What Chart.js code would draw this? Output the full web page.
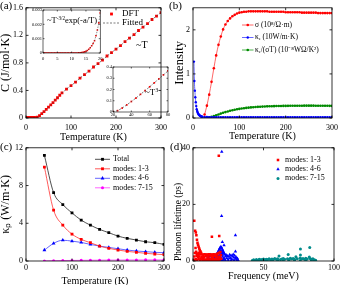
<!DOCTYPE html>
<html lang="en">
<head>
<meta charset="UTF-8">
<title>Heat capacity, transport and phonon lifetime</title>
<script src="https://cdn.jsdelivr.net/npm/chart.js@4.4.1/dist/chart.umd.min.js"></script>
<style>
  body { margin: 0; background: #fff; }
  #wrap { position: relative; width: 343px; height: 285px; overflow: hidden; font-family: 'Liberation Serif', serif; }
  canvas { position: absolute; }
  .lbl { position: absolute; white-space: nowrap; line-height: 1; color: #000; }
  .lbl sup { font-size: 60%; vertical-align: 0.5em; line-height: 0; }
</style>
</head>
<body>
<div id="wrap">
  <canvas id="cA" width="172" height="145" style="left:0;top:0"></canvas>
  <canvas id="cA1" width="76" height="56" style="left:30px;top:6px"></canvas>
  <canvas id="cA2" width="72" height="56" style="left:100px;top:63px"></canvas>
  <canvas id="cB" width="171" height="145" style="left:172px;top:0"></canvas>
  <canvas id="cC" width="172" height="145" style="left:0;top:140px"></canvas>
  <canvas id="cD" width="171" height="145" style="left:172px;top:140px"></canvas>
  <div class="lbl" style="left:0;top:0;font-size:11px">(a)</div>
  <div class="lbl" style="left:169px;top:0;font-size:11px">(b)</div>
  <div class="lbl" style="left:0;top:141px;font-size:11px">(c)</div>
  <div class="lbl" style="left:170px;top:141px;font-size:11px">(d)</div>
  <div class="lbl" style="left:47px;top:16px;font-size:8.5px">~T<sup>-3/2</sup>exp(-a/T)</div>
  <div class="lbl" style="left:136px;top:40px;font-size:10px">~T</div>
  <div class="lbl" style="left:145px;top:88px;font-size:9px">~T<sup>3</sup></div>
</div>
<script>
// (a) heat capacity
const lowT = [0,0.5,1,1.5,2,2.5,3,3.5,4,4.5,5,5.5,6,6.5,7,7.5,8,8.5,9,9.5,
              10,10.5,11,11.5,12,12.5,13,13.5,14,14.5,15,15.5,16,16.5,17,17.5,18,18.5,19,19.5,20];
const lowC = [0,0,0,0,0,0,0,0,0,0,0,0,0,0,0,0,0,0,0,0,
              0,0,0,0,0,0.00001,0.00002,0.00003,0.00005,0.00008,0.00012,0.00018,0.00026,0.00036,0.0005,0.00066,0.00086,0.0012,0.0016,0.0021,0.0028];
const midT = [25,30,35,40,45,50,55,60,65,70,75,80];
const midC = [0.012,0.035,0.063,0.093,0.124,0.157,0.19,0.224,0.259,0.294,0.33,0.365];
const highT = [90,100,110,120,130,140,150,160,170,180,190,200,210,220,230,240,250,260,270,280,290,300];
const highC = [0.42,0.47,0.52,0.58,0.63,0.68,0.74,0.79,0.84,0.9,0.95,1.0,1.05,1.11,1.16,1.21,1.27,1.32,1.37,1.43,1.48,1.53];

// (b) transport
const tB = [25,30,35,40,45,50,55,60,65,70,75,80,85,90,95,100,105,110,115,120,
            125,130,135,140,145,150,155,160,165,170,175,180,185,190,195,200,205,210,215,220,
            225,230,235,240,245,250,255,260,265,270,275,280,285,290,295,300];
const sigma = [0.08,0.28,0.53,0.82,1.13,1.42,1.66,1.85,2.01,2.12,
               2.2,2.26,2.31,2.34,2.37,2.39,2.4,2.41,2.41,2.42,
               2.42,2.42,2.42,2.42,2.42,2.42,2.42,2.42,2.41,2.41,
               2.41,2.41,2.41,2.41,2.41,2.4,2.4,2.4,2.4,2.4,
               2.4,2.4,2.39,2.39,2.39,2.39,2.39,2.39,2.39,2.38,
               2.38,2.38,2.38,2.38,2.38,2.38];
const keLowT = [2,3,4,5,6,7,8,9,10,11,12,13,14,15,16,17,18,19,20];
const keLow = [1.28,0.84,0.62,0.47,0.36,0.27,0.2,0.16,0.13,0.1,0.085,0.07,0.06,0.05,0.045,0.04,0.035,0.03,0.028];
const ke = [0.025,0.022,0.02,0.02,0.02,0.02,0.02,0.02,0.02,0.02,
            0.02,0.02,0.02,0.02,0.02,0.02,0.02,0.02,0.02,0.02,
            0.02,0.02,0.02,0.02,0.02,0.02,0.02,0.02,0.02,0.02,
            0.02,0.02,0.02,0.02,0.02,0.02,0.02,0.02,0.02,0.02,
            0.02,0.02,0.02,0.02,0.02,0.02,0.02,0.02,0.02,0.02,
            0.02,0.02,0.02,0.02,0.02,0.02];
const lorenz = [0,0.005,0.015,0.028,0.043,0.06,0.08,0.1,0.118,0.134,
                0.149,0.163,0.176,0.188,0.198,0.207,0.215,0.222,0.229,0.235,
                0.24,0.245,0.249,0.253,0.256,0.259,0.262,0.264,0.266,0.268,
                0.269,0.271,0.272,0.273,0.274,0.275,0.276,0.277,0.277,0.278,
                0.278,0.279,0.279,0.28,0.28,0.28,0.28,0.28,0.279,0.279,
                0.278,0.278,0.277,0.277,0.276,0.275];

// (c) lattice thermal conductivity
const tC = [40,60,80,100,120,140,160,180,200,220,240,260,280,300];
const kTotal = [11.2,7.25,5.98,5.1,4.33,3.8,3.35,3.0,2.64,2.4,2.22,2.04,1.94,1.76];
const k13 = [9.96,5.39,3.8,2.85,2.29,1.94,1.58,1.34,1.16,1.02,0.92,0.81,0.74,0.67];
const k46 = [1.16,1.87,2.2,2.11,1.97,1.76,1.58,1.44,1.3,1.16,1.06,0.99,0.92,0.88];
const k715 = [0.01,0.03,0.05,0.06,0.07,0.08,0.09,0.1,0.1,0.11,0.11,0.12,0.12,0.12];

// (d) phonon lifetime [frequency meV, lifetime ps]
const redPts = [[0.9,14.2],[1.5,10.7],[2.0,10.1],[2.4,9.1],[2.8,7.5],[3.2,6.4],[3.6,5.7],[4.0,5.0],[4.4,4.4],[4.8,3.9],
  [5.2,3.4],[5.6,3.0],[13.4,8.6],[18.6,8.8],[18.3,37.2],
  [0.6,0.4],[1.0,1.6],[1.3,2.8],[1.8,4.6],[2.2,3.3],[2.6,1.9],[3.0,2.6],[3.4,1.3],[3.8,2.2],[4.2,2.9],[4.6,1.6],
  [5.0,2.4],[5.4,0.9],[5.8,2.6],[6.2,1.5],[6.6,2.3],[7.0,0.7],[7.4,2.2],[7.8,1.3],[8.2,2.4],[8.6,0.5],[9.0,2.2],
  [9.4,1.7],[9.8,2.3],[10.2,0.9],[10.6,2.2],[11.0,1.4],[11.4,2.4],[11.8,0.6],[12.2,2.2],[12.6,1.8],[13.0,2.3],
  [13.4,1.0],[13.8,2.2],[14.2,1.5],[14.6,2.4],[15.0,0.7],[15.4,2.2],[15.8,1.9],[16.2,2.3],[16.6,1.1],[17.0,2.5],
  [17.4,1.6],[17.8,2.7],[18.2,0.8],[18.6,2.9],[19.0,1.4],[19.4,3.2],[19.8,2.0],
  [1.0,0.2],[2.0,0.6],[3.0,0.3],[4.0,0.8],[5.0,0.2],[6.0,0.5],[7.0,0.2],[8.0,0.4],[9.0,0.1],[10.0,0.3],
  [11.0,0.2],[12.0,0.4],[13.0,0.2],[14.0,0.3],[15.0,0.1],[16.0,0.4],[17.0,0.2],[18.0,0.3],[19.0,0.5],[20.0,0.8]];
const bluePts = [[20.4,38.6],[20.3,15.9],[20.8,6.7],[22.0,5.6],[30.1,9.1],[30.1,3.4],
  [17.0,2.6],[17.6,3.1],[18.2,3.6],[18.6,4.1],[19.0,4.5],[19.4,4.8],[19.8,5.0],[20.2,4.7],[20.6,4.3],[21.0,3.9],
  [21.4,3.4],[21.8,3.0],[22.2,2.6],[22.6,2.3],[18.8,3.0],[19.6,3.6],[20.4,3.2],[21.2,2.7],[19.2,2.2],[20.0,2.5],[20.8,2.0],
  [10.5,1.2],[11.0,2.0],[11.5,0.6],[12.0,1.6],[12.5,2.2],[13.0,0.9],[13.5,1.8],[14.0,0.4],[14.5,1.4],[15.0,2.1],
  [15.5,0.8],[16.0,1.7],[16.5,1.1],[17.0,0.4],[17.5,1.9],[18.0,0.9],[18.5,1.5],[19.0,0.6],[19.5,1.2],[20.0,0.3],
  [21.0,1.5],[21.5,0.7],[22.0,1.1],[22.5,0.4],[23.0,1.6],[23.5,2.1],[24.0,1.0],[24.5,1.8],[25.0,0.5],[25.5,1.5],
  [26.0,2.2],[26.5,1.1],[27.0,1.9],[27.5,0.6],[28.0,1.6],[28.5,2.3],[29.0,1.2],[29.5,1.9],[30.0,0.8],[30.5,1.4],
  [31.0,0.5],[31.5,0.9],[32.0,0.3],
  [11.0,0.2],[13.0,0.3],[15.0,0.2],[17.0,0.1],[19.0,0.2],[21.0,0.3],[23.0,0.2],[25.0,0.1],[27.0,0.2],[29.0,0.3],[31.0,0.1]];
const tealPts = [[42,0.2],[43,0.4],[44,0.3],[45,0.5],[46,0.3],[47,0.6],[48,0.4],[49,0.5],[50,0.7],[51,0.4],
  [52,0.6],[53,0.5],[54,0.8],[55,0.4],[56,0.7],[57,0.5],[58,0.9],[59,0.6],[60,0.8],[61,1.8],
  [62,0.5],[63,0.7],[64,0.9],[65,0.6],[67.5,2.3],[67,0.8],[68,0.5],[69,1.0],[70,0.7],[71,0.9],
  [72,0.6],[73,1.5],[74,0.8],[76.2,4.2],[76.2,2.1],[76,1.1],[77,0.7],[78,0.9],[79,0.6],[80,1.0],
  [81,0.7],[82.8,4.8],[82.5,1.4],[83,0.9],[84,0.6],[85,0.8],[86,0.4],[87,0.3],
  [44,0.1],[48,0.2],[52,0.2],[56,0.2],[60,0.3],[64,0.2],[68,0.2],[72,0.3],[76,0.2],[80,0.3],[84,0.2]];

const xy = (xs, ys) => xs.map((x, i) => ({ x: x, y: ys[i] }));
const pairs = pts => pts.map(p => ({ x: p[0], y: p[1] }));

Chart.defaults.font.family = "'Liberation Serif', serif";
Chart.defaults.color = '#000';

// box around the plot with small inward ticks on every side
const framePlugin = {
  id: 'frame',
  afterDraw(chart, args, o) {
    const ctx = chart.ctx, a = chart.chartArea;
    const t = o.tick || 2.5;
    ctx.save();
    ctx.strokeStyle = '#000';
    ctx.lineWidth = o.width || 0.8;
    ctx.strokeRect(a.left, a.top, a.right - a.left, a.bottom - a.top);
    ctx.beginPath();
    const sx = chart.scales.x, sy = chart.scales.y;
    sx.ticks.forEach(tk => {
      const p = sx.getPixelForValue(tk.value);
      ctx.moveTo(p, a.bottom); ctx.lineTo(p, a.bottom - t);
      ctx.moveTo(p, a.top); ctx.lineTo(p, a.top + t);
    });
    sy.ticks.forEach(tk => {
      const p = sy.getPixelForValue(tk.value);
      ctx.moveTo(a.left, p); ctx.lineTo(a.left + t, p);
      ctx.moveTo(a.right, p); ctx.lineTo(a.right - t, p);
    });
    ctx.stroke();
    ctx.restore();
  }
};

// legend drawn at fixed spots inside the plot
const keyPlugin = {
  id: 'keys',
  afterDraw(chart, args, o) {
    if (!o.items) return;
    const ctx = chart.ctx;
    ctx.save();
    ctx.font = o.font;
    ctx.textBaseline = 'middle';
    o.items.forEach((idx, i) => {
      const ds = chart.data.datasets[idx];
      const y = o.y + i * o.dy;
      const mid = o.x + (o.line || 0) / 2;
      if (o.line && ds.showLine !== false) {
        ctx.strokeStyle = ds.borderColor;
        ctx.lineWidth = ds.borderWidth;
        ctx.setLineDash(ds.borderDash || []);
        ctx.beginPath();
        ctx.moveTo(o.x, y); ctx.lineTo(o.x + o.line, y);
        ctx.stroke();
        ctx.setLineDash([]);
      }
      if (ds.pointRadius > 0) {
        ctx.fillStyle = ds.pointBackgroundColor;
        Chart.helpers.drawPoint(ctx, { pointStyle: ds.pointStyle, radius: ds.pointRadius, rotation: 0, borderWidth: 0 }, mid, y);
      }
      ctx.fillStyle = '#000';
      ctx.fillText(ds.label, o.tx, y);
    });
    ctx.restore();
  }
};
Chart.register(framePlugin, keyPlugin);

function axes(o) {
  return {
    x: {
      type: 'linear', min: o.x[0], max: o.x[1],
      grid: { display: false, drawTicks: false }, border: { display: false },
      ticks: { stepSize: o.x[2], padding: o.xPad, font: { size: o.tick }, maxRotation: 0, includeBounds: false },
      title: { display: !!o.xTitle, text: o.xTitle, font: { size: 10 }, padding: { top: 0, bottom: o.xtPad } },
      afterFit: s => { s.height = o.xH; }
    },
    y: {
      type: 'linear', min: o.y[0], max: o.y[1],
      grid: { display: false, drawTicks: false }, border: { display: false },
      ticks: { stepSize: o.y[2], padding: o.yPad, font: { size: o.tick }, includeBounds: false },
      title: { display: !!o.yTitle, text: o.yTitle, font: { size: o.ytSize || 10 }, align: o.yAlign || 'center', padding: { top: o.ytPad, bottom: 0 } },
      afterFit: s => { s.width = o.yW; }
    }
  };
}

function base(pad, sc, plugins) {
  return {
    responsive: false, animation: false, devicePixelRatio: 1,
    layout: { padding: pad },
    plugins: Object.assign({ legend: { display: false }, tooltip: { enabled: false } }, plugins),
    scales: sc
  };
}

const aT = lowT.concat(midT, highT);
const aC = lowC.concat(midC, highC);

function capSets(r) {
  return [
    { label: 'DFT', data: xy(aT, aC), showLine: false, pointStyle: 'rect', pointRadius: r,
      pointBackgroundColor: '#ff0000', pointBorderWidth: 0, borderColor: '#ff0000', order: 1 },
    { label: 'Fitted', data: xy(aT, aC), borderColor: '#444', borderWidth: 0.7, borderDash: [2, 1.5],
      pointRadius: 0, fill: false, order: 0 }
  ];
}

new Chart(document.getElementById('cA'), {
  type: 'line',
  data: { datasets: capSets(2) },
  options: base({ top: 5, right: 5, left: 0, bottom: 0 },
    axes({ x: [0, 300, 100], y: [0, 1.6, 0.4], tick: 8, xPad: 5, yPad: 3, xH: 27, yW: 26,
           xTitle: 'Temperature (K)', yTitle: 'C (J/mol·K)', ytSize: 12, xtPad: 2, ytPad: -1 }),
    { keys: { x: 103, y: 14, dy: 9, line: 17, tx: 122, font: "9px 'Liberation Serif'", items: [0, 1] } })
});

new Chart(document.getElementById('cA1'), {
  type: 'line',
  data: { datasets: [
    { label: 'DFT', data: xy(lowT, lowC), showLine: false, pointStyle: 'rect', pointRadius: 1.1,
      pointBackgroundColor: '#ff0000', pointBorderWidth: 0, borderColor: '#ff0000', order: 1 },
    { label: 'Fitted', data: xy(lowT, lowC), borderColor: '#444', borderWidth: 0.6, borderDash: [1.5, 1.2],
      pointRadius: 0, fill: false, order: 0 }
  ] },
  options: base({ top: 3, right: 3, left: 0, bottom: 0 },
    axes({ x: [0, 20, 5], y: [0, 0.003, 0.001], tick: 4.5, xPad: 3.5, yPad: 1, xH: 9, yW: 13 }),
    { frame: { tick: 1.5, width: 0.6 } })
});

new Chart(document.getElementById('cA2'), {
  type: 'line',
  data: { datasets: capSets(1.2) },
  options: base({ top: 4, right: 4, left: 0, bottom: 0 },
    axes({ x: [20, 80, 20], y: [0, 0.4, 0.1], tick: 4.5, xPad: 0.5, yPad: 1, xH: 7, yW: 13 }),
    { frame: { tick: 1.5, width: 0.6 } })
});

function lineSet(label, data, color, style, r, lineColor) {
  return { label: label, data: data, borderColor: lineColor || color, borderWidth: 0.8,
    pointStyle: style, pointRadius: r, pointBackgroundColor: color, pointBorderWidth: 0,
    fill: false, cubicInterpolationMode: 'monotone' };
}

new Chart(document.getElementById('cB'), {
  type: 'line',
  data: { datasets: [
    lineSet('σ (10⁸/Ω·m)', xy(tB, sigma), '#ff0000', 'circle', 1.3, '#ff4040'),
    lineSet('κₑ (10W/m·K)', xy(keLowT.concat(tB), keLow.concat(ke)), '#0000ff', 'circle', 1.2, '#4040ff'),
    lineSet('κₑ/(σT) (10⁻⁸WΩ/K²)', xy(tB, lorenz), '#008a00', 'circle', 1.3, '#20a020')
  ] },
  options: base({ top: 5, right: 7, left: 0, bottom: 0 },
    axes({ x: [0, 300, 100], y: [0, 2.5, 1], tick: 8, xPad: 5, yPad: 3, xH: 27, yW: 21,
           xTitle: 'Temperature (K)', yTitle: 'Intensity', ytSize: 12.5, xtPad: 2.3, ytPad: 0.5 }),
    { keys: { x: 70, y: 25, dy: 12.5, line: 11.5, tx: 83, font: "7.5px 'Liberation Serif'", items: [0, 1, 2] } })
});

new Chart(document.getElementById('cC'), {
  type: 'line',
  data: { datasets: [
    lineSet('Total', xy(tC, kTotal), '#000000', 'rect', 2, '#222222'),
    lineSet('modes: 1-3', xy(tC, k13), '#ff0000', 'rect', 2, '#ff3030'),
    lineSet('modes: 4-6', xy(tC, k46), '#0000ff', 'triangle', 2.2, '#4040ff'),
    lineSet('modes: 7-15', xy(tC, k715), '#ff00ff', 'circle', 1.5, '#ff40ff')
  ] },
  options: base({ top: 7, right: 5, left: 0, bottom: 0 },
    axes({ x: [0, 300, 100], y: [0, 12, 4], tick: 8, xPad: 2, yPad: 3, xH: 24, yW: 26,
           xTitle: 'Temperature (K)', yTitle: 'κₚ (W/m·K)', ytSize: 12, xtPad: -2.7, ytPad: -1 }),
    { keys: { x: 95, y: 19.3, dy: 9.5, line: 15, tx: 113, font: "8px 'Liberation Serif'", items: [0, 1, 2, 3] } })
});

function dotSet(label, pts, color, style, r) {
  return { label: label, data: pairs(pts), showLine: false, pointStyle: style, pointRadius: r,
    pointBackgroundColor: color, pointBorderWidth: 0, borderColor: color };
}

new Chart(document.getElementById('cD'), {
  type: 'line',
  data: { datasets: [
    dotSet('modes: 1-3', redPts, '#ff0000', 'rect', 1.8),
    dotSet('modes: 4-6', bluePts, '#0000ff', 'triangle', 2),
    dotSet('modes: 7-15', tealPts, '#008b8b', 'circle', 1.5)
  ] },
  options: base({ top: 7, right: 9, left: 0, bottom: 0 },
    axes({ x: [0, 100, 50], y: [0, 40, 20], tick: 8, xPad: 2, yPad: 3, xH: 24, yW: 21,
           xTitle: 'Frequency (meV)', yTitle: 'Phonon lifetime (ps)', ytSize: 9.5, yAlign: 'start', xtPad: 2.3, ytPad: 0.3 }),
    { keys: { x: 106, y: 20, dy: 9.2, line: 0, tx: 113, font: "8px 'Liberation Serif'", items: [0, 1, 2] } })
});
</script>
</body>
</html>
